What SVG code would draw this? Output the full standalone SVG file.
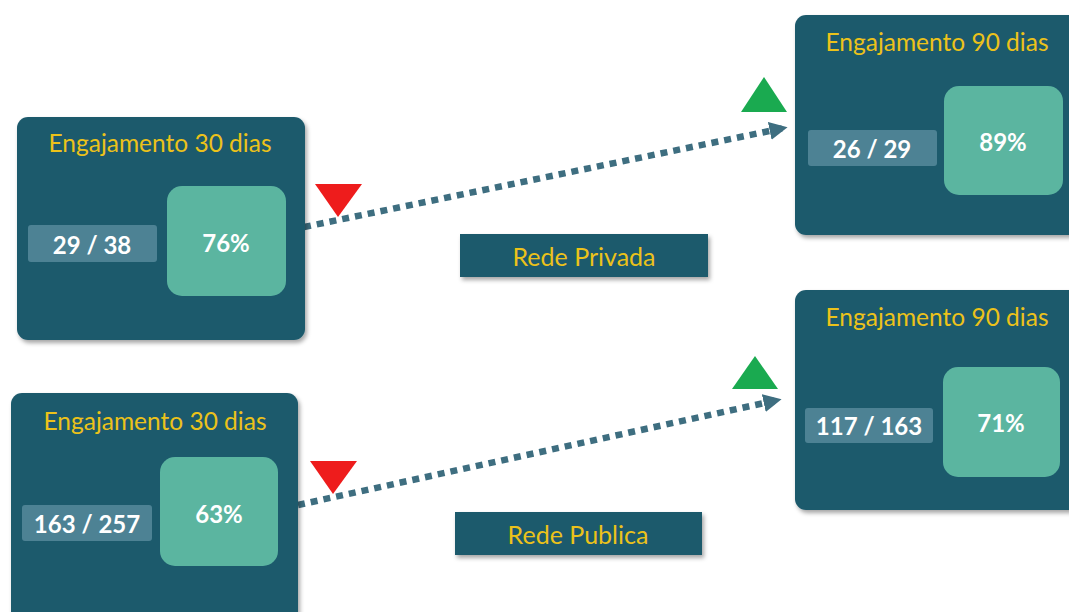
<svg xmlns="http://www.w3.org/2000/svg" width="1069" height="612" viewBox="0 0 1069 612">
  <defs>
    <filter id="shadow" x="-10%" y="-10%" width="125%" height="130%">
      <feDropShadow dx="2" dy="3" stdDeviation="2" flood-color="#000" flood-opacity="0.35"/>
    </filter>
    <marker id="arrow" viewBox="0 0 10 10" refX="8" refY="5" markerWidth="2.8" markerHeight="2.8" orient="auto" markerUnits="strokeWidth">
      <path d="M0,0 L10,5 L0,10 Z" fill="#3e6e80"/>
    </marker>
    <style>
      .card { fill: #1f5a6c; filter: url(#shadow); }
      .count { fill: #4d8294; }
      .pct { fill: #5bb5a0; }
      .title { font-family: Lato, "Liberation Sans", sans-serif; font-size: 24.5px; fill: #ecc21a; text-anchor: middle; }
      .num { font-family: Lato, "Liberation Sans", sans-serif; font-size: 24px; font-weight: bold; fill: #ffffff; text-anchor: middle; }
      .label { fill: #1f5a6c; filter: url(#shadow); }
      .labeltext { font-family: Lato, "Liberation Sans", sans-serif; font-size: 25px; fill: #ecc21a; text-anchor: middle; }
      .link { stroke: #3e6e80; stroke-width: 6.5; stroke-dasharray: 7 6; fill: none; }
      .down { fill: #ee1c1c; }
      .up { fill: #1aaa50; }
    </style>
  </defs>

  <rect width="1069" height="612" fill="#ffffff"/>

  <!-- connectors -->
  <g id="connectors">
    <line class="link" x1="304" y1="227" x2="784" y2="128" marker-end="url(#arrow)"/>
    <line class="link" x1="298" y1="505" x2="778" y2="400" marker-end="url(#arrow)"/>
  </g>

  <!-- trend markers -->
  <g id="trends">
    <polygon class="down" points="315,184 362,184 338,217"/>
    <polygon class="up" points="741,112 787,112 764,77"/>
    <polygon class="down" points="310,461 357,461 333,494"/>
    <polygon class="up" points="732,389 778,389 755,356"/>
  </g>

  <!-- private network, 30 days -->
  <g id="private-30">
    <rect class="card" x="17" y="117" width="288" height="223" rx="11"/>
    <text class="title" x="160" y="152">Engajamento 30 dias</text>
    <rect class="count" x="28" y="225" width="129" height="37" rx="3"/>
    <text class="num" x="92" y="254">29 / 38</text>
    <rect class="pct" x="167" y="186" width="119" height="110" rx="15"/>
    <text class="num" x="226" y="252">76%</text>
  </g>

  <!-- private network, 90 days -->
  <g id="private-90">
    <rect class="card" x="795" y="15" width="290" height="220" rx="11"/>
    <text class="title" x="937" y="51">Engajamento 90 dias</text>
    <rect class="count" x="808" y="130" width="129" height="36" rx="3"/>
    <text class="num" x="872" y="158">26 / 29</text>
    <rect class="pct" x="944" y="86" width="119" height="109" rx="15"/>
    <text class="num" x="1003" y="151">89%</text>
  </g>

  <!-- public network, 30 days -->
  <g id="public-30">
    <rect class="card" x="11" y="393" width="287" height="240" rx="11"/>
    <text class="title" x="155" y="430">Engajamento 30 dias</text>
    <rect class="count" x="22" y="505" width="130" height="36" rx="3"/>
    <text class="num" x="87" y="533">163 / 257</text>
    <rect class="pct" x="160" y="457" width="118" height="109" rx="15"/>
    <text class="num" x="219" y="523">63%</text>
  </g>

  <!-- public network, 90 days -->
  <g id="public-90">
    <rect class="card" x="795" y="290" width="290" height="220" rx="11"/>
    <text class="title" x="937" y="326">Engajamento 90 dias</text>
    <rect class="count" x="805" y="408" width="128" height="35" rx="3"/>
    <text class="num" x="869" y="435">117 / 163</text>
    <rect class="pct" x="943" y="367" width="117" height="110" rx="15"/>
    <text class="num" x="1001" y="432">71%</text>
  </g>

  <!-- network labels -->
  <g id="label-private">
    <rect class="label" x="460" y="234" width="248" height="43"/>
    <text class="labeltext" x="584" y="266">Rede Privada</text>
  </g>
  <g id="label-public">
    <rect class="label" x="455" y="512" width="247" height="43"/>
    <text class="labeltext" x="578" y="544">Rede Publica</text>
  </g>
</svg>
